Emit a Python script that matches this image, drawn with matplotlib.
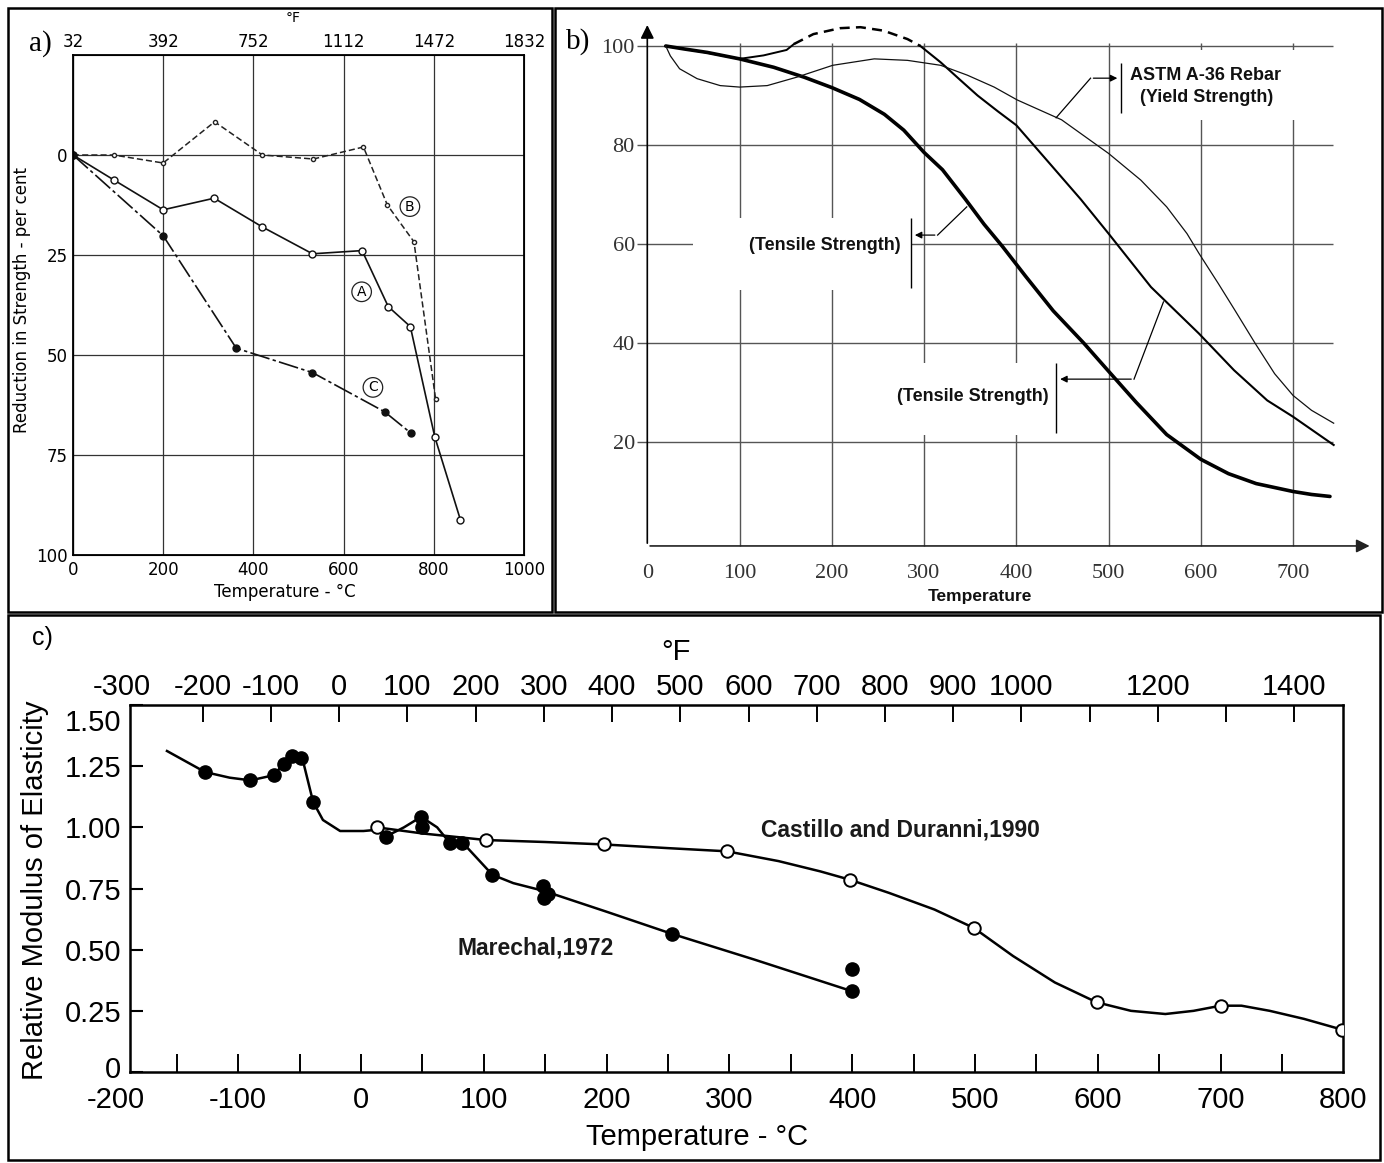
import matplotlib
matplotlib.use("Agg")
import matplotlib.pyplot as plt
from matplotlib.patches import Rectangle
from matplotlib.ticker import FixedLocator
from matplotlib.transforms import ScaledTranslation

plt.rcParams['axes.unicode_minus'] = False

# ---------------- Panel a data ----------------
a_x_ticks = [0, 200, 400, 600, 800, 1000]
a_y_ticks = [0, 25, 50, 75, 100]
a_top_ticks = [32, 392, 752, 1112, 1472, 1832]
a_B_t = [0, 90, 200, 314, 420, 533, 644, 697, 756, 804]
a_B_v = [0, 0, 2, -8.3, 0, 1, -2, 12.5, 21.7, 61]
a_A_t = [0, 90, 200, 313, 420, 531, 641, 699, 748, 802, 859]
a_A_v = [0, 6.2, 13.7, 10.8, 18, 24.7, 23.9, 37.9, 42.9, 70.4, 91.2]
a_C_t = [0, 200, 362, 531, 691, 750]
a_C_v = [0, 20.2, 48.3, 54.4, 64.2, 69.6]

# ---------------- Panel b data ----------------
b_x_ticks = [0, 100, 200, 300, 400, 500, 600, 700]
b_y_ticks = [20, 40, 60, 80, 100]
b_thick_t = [20, 40, 65, 100, 137, 170, 200, 230, 257, 278, 300, 320, 345, 365, 385,
             410, 440, 473, 500, 530, 563, 600, 630, 660, 700, 720, 740]
b_thick_v = [100, 99.4, 98.7, 97.4, 95.7, 93.7, 91.6, 89.2, 86.2, 83, 78.5, 75, 69, 64, 59.5,
             53.5, 46.5, 40, 34.3, 28, 21.5, 16.5, 13.6, 11.6, 10, 9.4, 9.0]
b_med1_t = [20, 60, 100, 126, 151, 159]
b_med1_v = [100, 98.8, 97.4, 98.1, 99.2, 100.4]
b_med_dash_t = [159, 180, 209, 231, 256, 282, 296]
b_med_dash_v = [100.4, 102.4, 103.6, 103.8, 103.1, 101.4, 100]
b_med2_t = [296, 318, 340, 358, 380, 400, 436, 470, 500, 546, 598, 636, 672, 700, 744]
b_med2_v = [100, 96.7, 93, 90, 86.8, 84, 76.3, 69, 62.1, 51.3, 41.9, 34.5, 28.4, 25.1, 19.4]
b_thin_t = [20, 25, 35, 54, 79, 100, 130, 162, 201, 246, 282, 318, 347, 376, 401, 449, 500,
            535, 563, 585, 598, 619, 637, 659, 680, 700, 720, 744]
b_thin_v = [100, 98, 95.4, 93.4, 92, 91.7, 92, 93.7, 96.1, 97.4, 97.1, 96.1, 94.1, 91.7, 89.1,
            85.1, 78.3, 72.9, 67.5, 62.1, 58.1, 52, 46.6, 39.9, 33.8, 29.4, 26.4, 23.8]

# ---------------- Panel c data ----------------
c_x_ticks = [-200, -100, 0, 100, 200, 300, 400, 500, 600, 700, 800]
c_y_ticks = [0, 0.25, 0.5, 0.75, 1.0, 1.25, 1.5]
c_y_labels = ['0', '0.25', '0.50', '0.75', '1.00', '1.25', '1.50']
c_top_labels = ['-300', '-200', '-100', '0', '100', '200', '300', '400', '500', '600', '700',
                '800', '900', '1000', '1200', '1400']
c_top_label_pos = [-319, -200, -100, 0, 100, 200, 300, 400, 500, 600, 700, 800, 900, 1000, 1200, 1400]
c_top_marks = [-200, -100, 0, 100, 200, 300, 400, 500, 600, 700, 800, 900, 1000, 1100, 1200, 1300, 1400]
mar_curve_t = [-158, -127, -107, -90, -71, -63, -55, -48, -39, -31, -17, 2, 13, 20, 35, 49, 62,
               72.5, 86, 107, 124, 149, 200, 253, 320, 400]
mar_curve_v = [1.312, 1.226, 1.203, 1.192, 1.213, 1.26, 1.294, 1.287, 1.104, 1.03, 0.985, 0.985,
               0.99, 0.962, 1.0, 1.043, 1.0, 0.935, 0.92, 0.806, 0.772, 0.74, 0.655, 0.565, 0.46, 0.33]
mar_pts_t = [-127, -90, -71, -63, -56, -49, -39, 20, 49, 50, 72.5, 82, 107, 148, 149, 152, 253, 400, 400]
mar_pts_v = [1.226, 1.192, 1.213, 1.26, 1.29, 1.285, 1.104, 0.962, 1.043, 1.0, 0.935, 0.935, 0.806,
             0.759, 0.712, 0.726, 0.564, 0.42, 0.33]
cas_curve_t = [13, 50, 102, 150, 198, 250, 298, 340, 374, 398, 430, 467, 499, 531, 565, 599,
               627, 655, 678, 700, 717, 740, 768, 799]
cas_curve_v = [1.0, 0.975, 0.948, 0.94, 0.93, 0.915, 0.902, 0.862, 0.82, 0.786, 0.732, 0.664,
               0.589, 0.474, 0.366, 0.285, 0.25, 0.237, 0.25, 0.271, 0.271, 0.25, 0.217, 0.173]
cas_pts_t = [13, 102, 198, 298, 398, 499, 599, 700, 799]
cas_pts_v = [1.0, 0.948, 0.93, 0.902, 0.786, 0.589, 0.285, 0.271, 0.173]

W, H = 1384, 1163
fig = plt.figure(figsize=(W / 100, H / 100), dpi=100)


def ax_px(left, top, right, bottom):
    return fig.add_axes([left / W, 1 - bottom / H, (right - left) / W, (bottom - top) / H])


def ftext(px, py, s, **kw):
    return fig.text(px / W, 1 - py / H, s, **kw)


for (l, t, r, b) in [(8, 8, 552, 612), (555, 8, 1382, 612), (8, 615, 1380, 1160)]:
    fig.patches.append(Rectangle((l / W, 1 - b / H), (r - l) / W, (b - t) / H,
                                 transform=fig.transFigure, fill=False, ec='black', lw=1.8))

# ======================= Panel a =======================
SANS_A = 'DejaVu Sans'
axa = ax_px(73, 55, 524, 555)
axa.set_xlim(0, 1000)
axa.set_ylim(100, -25)
axa.set_xticks(a_x_ticks)
axa.set_yticks(a_y_ticks)
axa.set_xticklabels([str(v) for v in a_x_ticks], family=SANS_A, fontsize=12)
axa.set_yticklabels([str(v) for v in a_y_ticks], family=SANS_A, fontsize=12)
axa.tick_params(length=0, pad=4)
axa.grid(True, color='#333333', lw=0.9)
for s in axa.spines.values():
    s.set_linewidth(1.3)
axa.plot(a_B_t, a_B_v, color='#222222', lw=1.1, ls=(0, (4, 2)), marker='o', ms=3,
         mfc='white', mec='#222222', zorder=3)
axa.plot(a_A_t, a_A_v, color='#111111', lw=1.2, marker='o', ms=5, mfc='white',
         mec='#111111', zorder=3)
axa.plot(a_C_t, a_C_v, color='#111111', lw=1.2, ls=(0, (12, 2, 2, 2)), marker='o', ms=5,
         mfc='#111111', mec='#111111', zorder=3)
for lab, (tx, ty) in zip(['B', 'A', 'C'], [(747, 12.9), (640, 34.2), (665, 58.1)]):
    axa.text(tx, ty, lab, ha='center', va='center', fontsize=10, family=SANS_A,
             bbox=dict(boxstyle='circle,pad=0.2', fc='white', ec='#222222', lw=0.9), zorder=4)
axa2 = axa.twiny()
axa2.set_xlim(32, 1832)
axa2.set_xticks(a_top_ticks)
axa2.set_xticklabels([str(v) for v in a_top_ticks], family=SANS_A, fontsize=12)
axa2.tick_params(length=0, pad=3)
ftext(22, 300, 'Reduction in Strength - per cent', rotation=90, ha='center', va='center',
      family=SANS_A, fontsize=12)
ftext(285, 592, 'Temperature - °C', ha='center', va='center', family=SANS_A, fontsize=12)
ftext(293, 18, '°F', ha='center', va='center', family=SANS_A, fontsize=10)
ftext(40, 44, 'a)', ha='center', va='center', family='Liberation Serif', fontsize=21)

# ======================= Panel b =======================
axb = ax_px(610.4, 11.35, 1376.1, 570.7)
axb.set_xlim(-40, 790)
axb.set_ylim(-6, 107)
for s in axb.spines.values():
    s.set_visible(False)
axb.spines['left'].set_position(('data', 0))
axb.spines['bottom'].set_position(('data', -1))
axb.set_xticks(b_x_ticks)
axb.set_yticks(b_y_ticks)
axb.set_xticklabels([str(v) for v in b_x_ticks], family='Liberation Serif', fontsize=16, color='#333333')
axb.set_yticklabels([str(v) for v in b_y_ticks], family='Liberation Serif', fontsize=16, color='#333333')
axb.tick_params(axis='x', length=0, pad=13)
axb.tick_params(axis='y', length=0, pad=9)
axb.hlines(b_y_ticks, -11, 743, color='#555555', lw=1.0, zorder=1)
axb.vlines(b_x_ticks[1:], -1, 100.6, color='#555555', lw=1.0, zorder=1)
# white label boxes hiding the grid
for (x0, y0, x1, y1) in [(49.5, 50.7, 285.9, 65.3), (233.8, 21.4, 443, 36), (513.6, 85, 707.6, 99.2)]:
    axb.add_patch(Rectangle((x0, y0), x1 - x0, y1 - y0, fc='white', ec='none', zorder=1.5))
axb.annotate('', xy=(0, 104.8), xytext=(0, -1),
             arrowprops=dict(arrowstyle='-|>', color='black', lw=1.2, mutation_scale=20), zorder=2)
axb.annotate('', xy=(786, -1), xytext=(0, -1),
             arrowprops=dict(arrowstyle='-|>', color='#222222', lw=1.2, mutation_scale=20), zorder=2)
axb.plot(b_thick_t, b_thick_v, color='black', lw=2.6, zorder=3, solid_capstyle='round',
         solid_joinstyle='round')
axb.plot(b_med1_t, b_med1_v, color='black', lw=1.4, zorder=3)
axb.plot(b_med_dash_t, b_med_dash_v, color='black', lw=1.8, ls=(0, (4, 2.5)), zorder=3)
axb.plot(b_med2_t, b_med2_v, color='black', lw=1.5, zorder=3, solid_joinstyle='round')
axb.plot(b_thin_t, b_thin_v, color='#111111', lw=0.9, zorder=3)
# vertical bars
axb.vlines([285.9, 443, 513.6], [51.1, 21.8, 86.5], [65.3, 36, 96.6], color='black', lw=1.0, zorder=3)
# leaders
axb.plot([443.1, 480.5], [85.5, 93.5], color='black', lw=0.9, zorder=3)
axb.annotate('', xy=(512.5, 93.5), xytext=(480.5, 93.5),
             arrowprops=dict(arrowstyle='-|>', color='black', lw=0.9, mutation_scale=10), zorder=3)
axb.plot([346.3, 314.7], [67.5, 61.8], color='black', lw=0.9, zorder=3)
axb.annotate('', xy=(287, 61.8), xytext=(314.7, 61.8),
             arrowprops=dict(arrowstyle='-|>', color='black', lw=0.9, mutation_scale=10), zorder=3)
axb.plot([559.5, 527.6], [48.3, 32.7], color='black', lw=0.9, zorder=3)
axb.annotate('', xy=(444.5, 32.7), xytext=(527.6, 32.7),
             arrowprops=dict(arrowstyle='-|>', color='black', lw=0.9, mutation_scale=10), zorder=3)
bold = dict(family='Liberation Sans', fontweight='bold', fontsize=13, color='#111111', zorder=4)
axb.text(605.5, 94.1, 'ASTM A-36 Rebar', ha='center', va='center', **bold)
axb.text(606.6, 89.6, '(Yield Strength)', ha='center', va='center', **bold)
axb.text(192.3, 59.7, '(Tensile Strength)', ha='center', va='center', **bold)
axb.text(352.6, 29.2, '(Tensile Strength)', ha='center', va='center', **bold)
axb.text(360.6, -11.3, 'Temperature', ha='center', va='center', family='Liberation Sans',
         fontweight='bold', fontsize=12.5, color='#111111')
ftext(578, 42, 'b)', ha='center', va='center', family='Liberation Serif', fontsize=21)

# ======================= Panel c =======================
SANS_C = 'Liberation Sans'
LEFT_C = -188.5
axc = ax_px(115.4, 705, 1343.4, 1072)
axc.set_xlim(-200, 800)
axc.set_ylim(0, 1.5)
axc.spines['top'].set_visible(False)
axc.spines['left'].set_position(('data', LEFT_C))
axc.spines['bottom'].set_bounds(LEFT_C, 800)
for s in ['left', 'bottom', 'right']:
    axc.spines[s].set_linewidth(1.8)
axc.set_xticks(c_x_ticks)
axc.set_xticklabels([str(v) for v in c_x_ticks], family=SANS_C, fontsize=21)
axc.xaxis.remove_overlapping_locs = False
axc.xaxis.set_minor_locator(FixedLocator(list(range(-150, 800, 50))))
axc.tick_params(axis='x', which='major', length=0, pad=10)
axc.tick_params(axis='x', which='minor', direction='in', length=13, width=1.4)
axc.set_yticks(c_y_ticks)
axc.set_yticklabels(c_y_labels, family=SANS_C, fontsize=21)
axc.tick_params(axis='y', direction='in', length=9, width=1.5, pad=6)
# reference nudges: "1.50" sits a little below the top frame, "0" a little above the bottom one
ylabs = axc.get_yticklabels()
ylabs[-1].set_transform(ylabs[-1].get_transform() + ScaledTranslation(0, -0.15, fig.dpi_scale_trans))
ylabs[0].set_transform(ylabs[0].get_transform() + ScaledTranslation(0, 0.05, fig.dpi_scale_trans))

axt = axc.twiny()
axt.set_xlim(-200 * 1.8 + 32, 800 * 1.8 + 32)
for s in ['left', 'right', 'bottom']:
    axt.spines[s].set_visible(False)
axt.spines['top'].set_bounds(LEFT_C * 1.8 + 32, 800 * 1.8 + 32)
axt.spines['top'].set_linewidth(1.8)
axt.set_xticks(c_top_label_pos)
axt.set_xticklabels(c_top_labels, family=SANS_C, fontsize=21)
axt.xaxis.remove_overlapping_locs = False
axt.xaxis.set_minor_locator(FixedLocator(c_top_marks))
axt.tick_params(axis='x', which='major', length=0, pad=3)
axt.tick_params(axis='x', which='minor', direction='in', length=12, width=1.4)

axc.plot(mar_curve_t, mar_curve_v, color='black', lw=1.8, zorder=3, solid_joinstyle='round')
axc.plot(cas_curve_t, cas_curve_v, color='black', lw=1.8, zorder=3, solid_joinstyle='round')
axc.plot(mar_pts_t, mar_pts_v, ls='none', marker='o', ms=9.5, mfc='black', mec='black', zorder=4)
axc.plot(cas_pts_t, cas_pts_v, ls='none', marker='o', ms=9, mfc='white', mec='black', mew=1.4, zorder=5)
axc.text(325.7, 0.989, 'Castillo and Duranni,1990', ha='left', va='center', family=SANS_C,
         fontweight='bold', fontsize=16.5, color='#1a1a1a')
axc.text(78.2, 0.507, 'Marechal,1972', ha='left', va='center', family=SANS_C,
         fontweight='bold', fontsize=16.5, color='#1a1a1a')
ftext(35, 890, 'Relative Modulus of Elasticity', rotation=90, ha='center', va='center',
      family=SANS_C, fontsize=21)
ftext(697, 1137, 'Temperature - °C', ha='center', va='center', family=SANS_C, fontsize=21)
ftext(676, 652, '°F', ha='center', va='center', family=SANS_C, fontsize=21)
ftext(42, 638, 'c)', ha='center', va='center', family=SANS_C, fontsize=18)

fig.savefig('out.png', dpi=100)
